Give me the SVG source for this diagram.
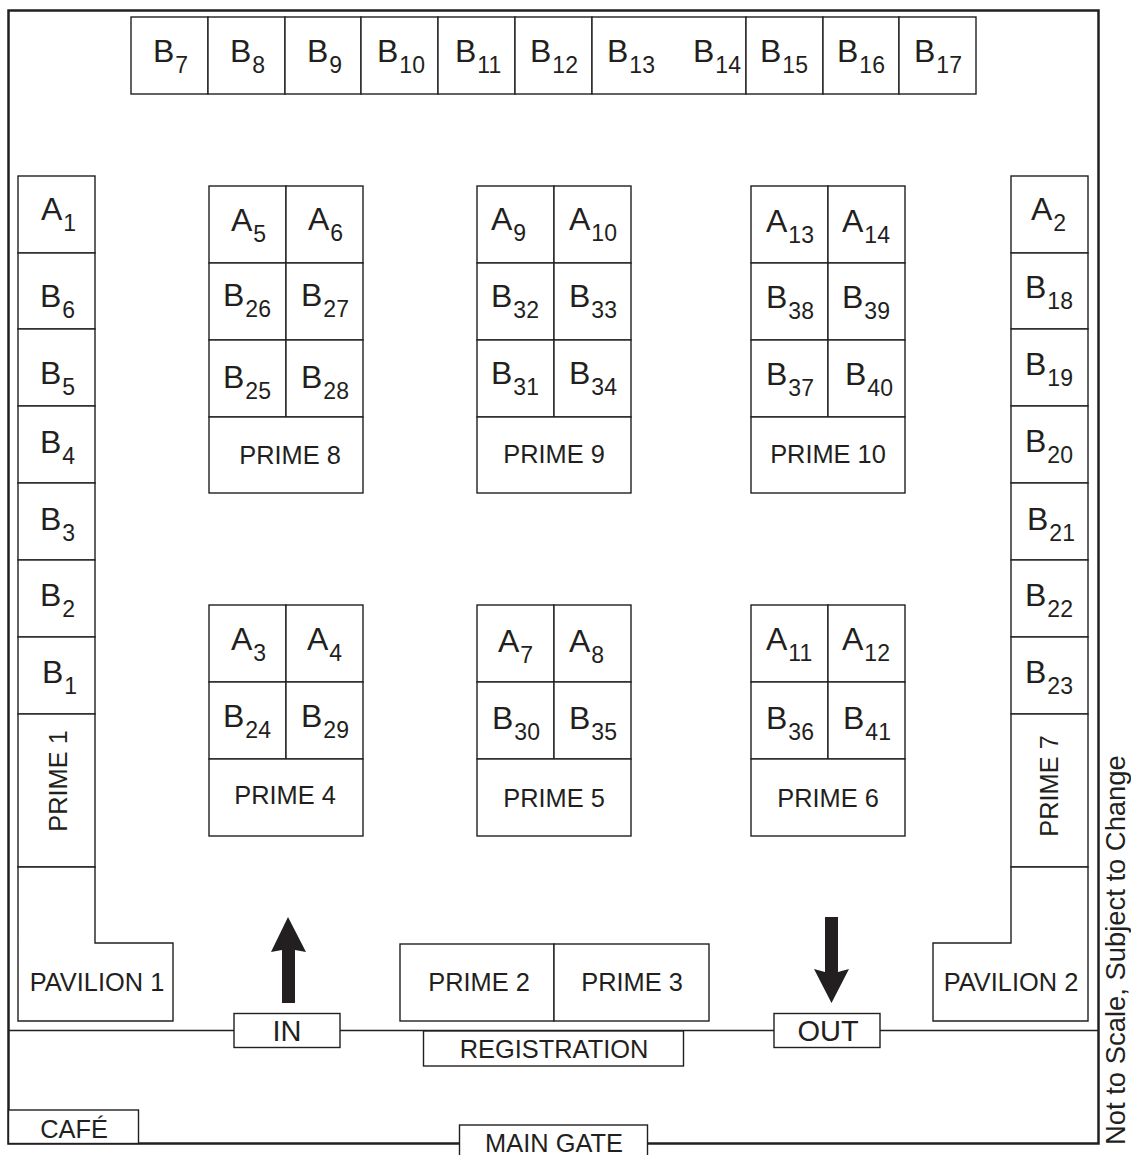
<svg xmlns="http://www.w3.org/2000/svg" width="1131" height="1155" viewBox="0 0 1131 1155">
<style>
rect,path.s,line{fill:#fff;stroke:#231f20;stroke-width:1.4}
line{fill:none}
#border{fill:none;stroke:#231f20;stroke-width:2.5}
text{font-family:"Liberation Sans",Arial,sans-serif;fill:#231f20}
.b{font-size:32px}
.b tspan{font-size:23px}
.l{font-size:25.4px;text-anchor:middle}
.a{fill:#231f20}
</style>
<rect width="1131" height="1155" style="fill:#fff;stroke:none"/>
<g id="hall">
<rect id="border" x="8.500" y="10.500" width="1090" height="1133"/>
<line x1="8" y1="1030.500" x2="1099" y2="1030.500"/>
</g>
<g id="row-top">
<rect x="131" y="17" width="77" height="77"/><rect x="208" y="17" width="77" height="77"/><rect x="285" y="17" width="76" height="77"/><rect x="361" y="17" width="77" height="77"/><rect x="438" y="17" width="77" height="77"/><rect x="515" y="17" width="77" height="77"/><rect x="592" y="17" width="154" height="77"/><rect x="746" y="17" width="77" height="77"/><rect x="823" y="17" width="76" height="77"/><rect x="899" y="17" width="77" height="77"/>
<text class="b" x="153" y="62">B<tspan dx="1" dy="11">7</tspan></text><text class="b" x="230" y="62">B<tspan dx="1" dy="11">8</tspan></text><text class="b" x="307" y="62">B<tspan dx="1" dy="11">9</tspan></text><text class="b" x="377" y="62">B<tspan dx="1" dy="11">10</tspan></text><text class="b" x="455" y="62">B<tspan dx="1" dy="11">11</tspan></text><text class="b" x="530" y="62">B<tspan dx="1" dy="11">12</tspan></text><text class="b" x="607" y="62">B<tspan dx="1" dy="11">13</tspan></text><text class="b" x="693" y="62">B<tspan dx="1" dy="11">14</tspan></text><text class="b" x="760" y="62">B<tspan dx="1" dy="11">15</tspan></text><text class="b" x="837" y="62">B<tspan dx="1" dy="11">16</tspan></text><text class="b" x="914" y="62">B<tspan dx="1" dy="11">17</tspan></text>
</g>
<g id="col-left">
<rect x="18" y="176" width="77" height="77"/><rect x="18" y="253" width="77" height="76"/><rect x="18" y="329" width="77" height="77"/><rect x="18" y="406" width="77" height="77"/><rect x="18" y="483" width="77" height="77"/><rect x="18" y="560" width="77" height="77"/><rect x="18" y="637" width="77" height="77"/><rect x="18" y="714" width="77" height="153"/>
<text class="b" x="41" y="220">A<tspan dx="1" dy="11">1</tspan></text><text class="b" x="40" y="307">B<tspan dx="1" dy="11">6</tspan></text><text class="b" x="40" y="384">B<tspan dx="1" dy="11">5</tspan></text><text class="b" x="40" y="453">B<tspan dx="1" dy="11">4</tspan></text><text class="b" x="40" y="530">B<tspan dx="1" dy="11">3</tspan></text><text class="b" x="40" y="606">B<tspan dx="1" dy="11">2</tspan></text><text class="b" x="42" y="683">B<tspan dx="1" dy="11">1</tspan></text>
<text class="l" transform="translate(67 781) rotate(-90)">PRIME 1</text>
</g>
<g id="pavilion-1"><path class="s" d="M18 867H95V943H173V1021H18Z"/><text class="l" x="97" y="991">PAVILION 1</text></g>
<g id="col-right">
<rect x="1011" y="176" width="77" height="77"/><rect x="1011" y="253" width="77" height="76"/><rect x="1011" y="329" width="77" height="77"/><rect x="1011" y="406" width="77" height="77"/><rect x="1011" y="483" width="77" height="77"/><rect x="1011" y="560" width="77" height="77"/><rect x="1011" y="637" width="77" height="77"/><rect x="1011" y="714" width="77" height="153"/>
<text class="b" x="1031" y="220">A<tspan dx="1" dy="11">2</tspan></text><text class="b" x="1025" y="298">B<tspan dx="1" dy="11">18</tspan></text><text class="b" x="1025" y="375">B<tspan dx="1" dy="11">19</tspan></text><text class="b" x="1025" y="452">B<tspan dx="1" dy="11">20</tspan></text><text class="b" x="1027" y="530">B<tspan dx="1" dy="11">21</tspan></text><text class="b" x="1025" y="606">B<tspan dx="1" dy="11">22</tspan></text><text class="b" x="1025" y="683">B<tspan dx="1" dy="11">23</tspan></text>
<text class="l" transform="translate(1058 786) rotate(-90)">PRIME 7</text>
</g>
<g id="pavilion-2"><path class="s" d="M1088 867H1011V943H933V1021H1088Z"/><text class="l" x="1011" y="991">PAVILION 2</text></g>
<g id="block-8">
<rect x="209" y="186" width="77" height="77"/><rect x="286" y="186" width="77" height="77"/><rect x="209" y="263" width="77" height="77"/><rect x="286" y="263" width="77" height="77"/><rect x="209" y="340" width="77" height="77"/><rect x="286" y="340" width="77" height="77"/><rect x="209" y="417" width="154" height="76"/>
<text class="b" x="231" y="231">A<tspan dx="1" dy="11">5</tspan></text><text class="b" x="308" y="230">A<tspan dx="1" dy="11">6</tspan></text><text class="b" x="223" y="306">B<tspan dx="1" dy="11">26</tspan></text><text class="b" x="301" y="306">B<tspan dx="1" dy="11">27</tspan></text><text class="b" x="223" y="388">B<tspan dx="1" dy="11">25</tspan></text><text class="b" x="301" y="388">B<tspan dx="1" dy="11">28</tspan></text>
<text class="l" x="290" y="464">PRIME 8</text>
</g>
<g id="block-9">
<rect x="477" y="186" width="77" height="77"/><rect x="554" y="186" width="77" height="77"/><rect x="477" y="263" width="77" height="77"/><rect x="554" y="263" width="77" height="77"/><rect x="477" y="340" width="77" height="77"/><rect x="554" y="340" width="77" height="77"/><rect x="477" y="417" width="154" height="76"/>
<text class="b" x="491" y="230">A<tspan dx="1" dy="11">9</tspan></text><text class="b" x="569" y="230">A<tspan dx="1" dy="11">10</tspan></text><text class="b" x="491" y="307">B<tspan dx="1" dy="11">32</tspan></text><text class="b" x="569" y="307">B<tspan dx="1" dy="11">33</tspan></text><text class="b" x="491" y="384">B<tspan dx="1" dy="11">31</tspan></text><text class="b" x="569" y="384">B<tspan dx="1" dy="11">34</tspan></text>
<text class="l" x="554" y="463">PRIME 9</text>
</g>
<g id="block-10">
<rect x="751" y="186" width="77" height="77"/><rect x="828" y="186" width="77" height="77"/><rect x="751" y="263" width="77" height="77"/><rect x="828" y="263" width="77" height="77"/><rect x="751" y="340" width="77" height="77"/><rect x="828" y="340" width="77" height="77"/><rect x="751" y="417" width="154" height="76"/>
<text class="b" x="766" y="232">A<tspan dx="1" dy="11">13</tspan></text><text class="b" x="842" y="232">A<tspan dx="1" dy="11">14</tspan></text><text class="b" x="766" y="308">B<tspan dx="1" dy="11">38</tspan></text><text class="b" x="842" y="308">B<tspan dx="1" dy="11">39</tspan></text><text class="b" x="766" y="385">B<tspan dx="1" dy="11">37</tspan></text><text class="b" x="845" y="385">B<tspan dx="1" dy="11">40</tspan></text>
<text class="l" x="828" y="463">PRIME 10</text>
</g>
<g id="block-4">
<rect x="209" y="605" width="77" height="77"/><rect x="286" y="605" width="77" height="77"/><rect x="209" y="682" width="77" height="77"/><rect x="286" y="682" width="77" height="77"/><rect x="209" y="759" width="154" height="77"/>
<text class="b" x="231" y="650">A<tspan dx="1" dy="11">3</tspan></text><text class="b" x="307" y="650">A<tspan dx="1" dy="11">4</tspan></text><text class="b" x="223" y="727">B<tspan dx="1" dy="11">24</tspan></text><text class="b" x="301" y="727">B<tspan dx="1" dy="11">29</tspan></text>
<text class="l" x="285" y="804">PRIME 4</text>
</g>
<g id="block-5">
<rect x="477" y="605" width="77" height="77"/><rect x="554" y="605" width="77" height="77"/><rect x="477" y="682" width="77" height="77"/><rect x="554" y="682" width="77" height="77"/><rect x="477" y="759" width="154" height="77"/>
<text class="b" x="498" y="652">A<tspan dx="1" dy="11">7</tspan></text><text class="b" x="569" y="652">A<tspan dx="1" dy="11">8</tspan></text><text class="b" x="492" y="729">B<tspan dx="1" dy="11">30</tspan></text><text class="b" x="569" y="729">B<tspan dx="1" dy="11">35</tspan></text>
<text class="l" x="554" y="807">PRIME 5</text>
</g>
<g id="block-6">
<rect x="751" y="605" width="77" height="77"/><rect x="828" y="605" width="77" height="77"/><rect x="751" y="682" width="77" height="77"/><rect x="828" y="682" width="77" height="77"/><rect x="751" y="759" width="154" height="77"/>
<text class="b" x="766" y="650">A<tspan dx="1" dy="11">11</tspan></text><text class="b" x="842" y="650">A<tspan dx="1" dy="11">12</tspan></text><text class="b" x="766" y="729">B<tspan dx="1" dy="11">36</tspan></text><text class="b" x="843" y="729">B<tspan dx="1" dy="11">41</tspan></text>
<text class="l" x="828" y="807">PRIME 6</text>
</g>
<g id="prime-2-3">
<rect x="400" y="944" width="154" height="77"/><rect x="554" y="944" width="155" height="77"/>
<text class="l" x="479" y="991">PRIME 2</text><text class="l" x="632" y="991">PRIME 3</text>
</g>
<g id="in"><rect x="234" y="1013.500" width="106" height="34"/><text class="l" x="287" y="1041" style="font-size:29px">IN</text></g>
<g id="out"><rect x="774" y="1013.500" width="106" height="34"/><text class="l" x="828" y="1041" style="font-size:29px">OUT</text></g>
<g id="registration"><rect x="423.500" y="1031" width="260" height="35"/><text class="l" x="554" y="1058">REGISTRATION</text></g>
<g id="cafe"><rect x="8.500" y="1110" width="130" height="33.500"/><text class="l" x="74" y="1138">CAFÉ</text></g>
<g id="main-gate"><rect x="459.500" y="1125" width="188" height="40"/><text class="l" x="554" y="1152">MAIN GATE</text></g>
<g id="connectors">
<path class="a" d="M288 917L306 952L295 950V1003H282V950L271 952Z"/>
<path class="a" d="M831.500 1003L849 969L838 972V917H825V972L814 969Z"/>
</g>
<text x="1125" y="1145" transform="rotate(-90 1125 1145)" style="font-size:27.400px">Not to Scale, Subject to Change</text>
</svg>
